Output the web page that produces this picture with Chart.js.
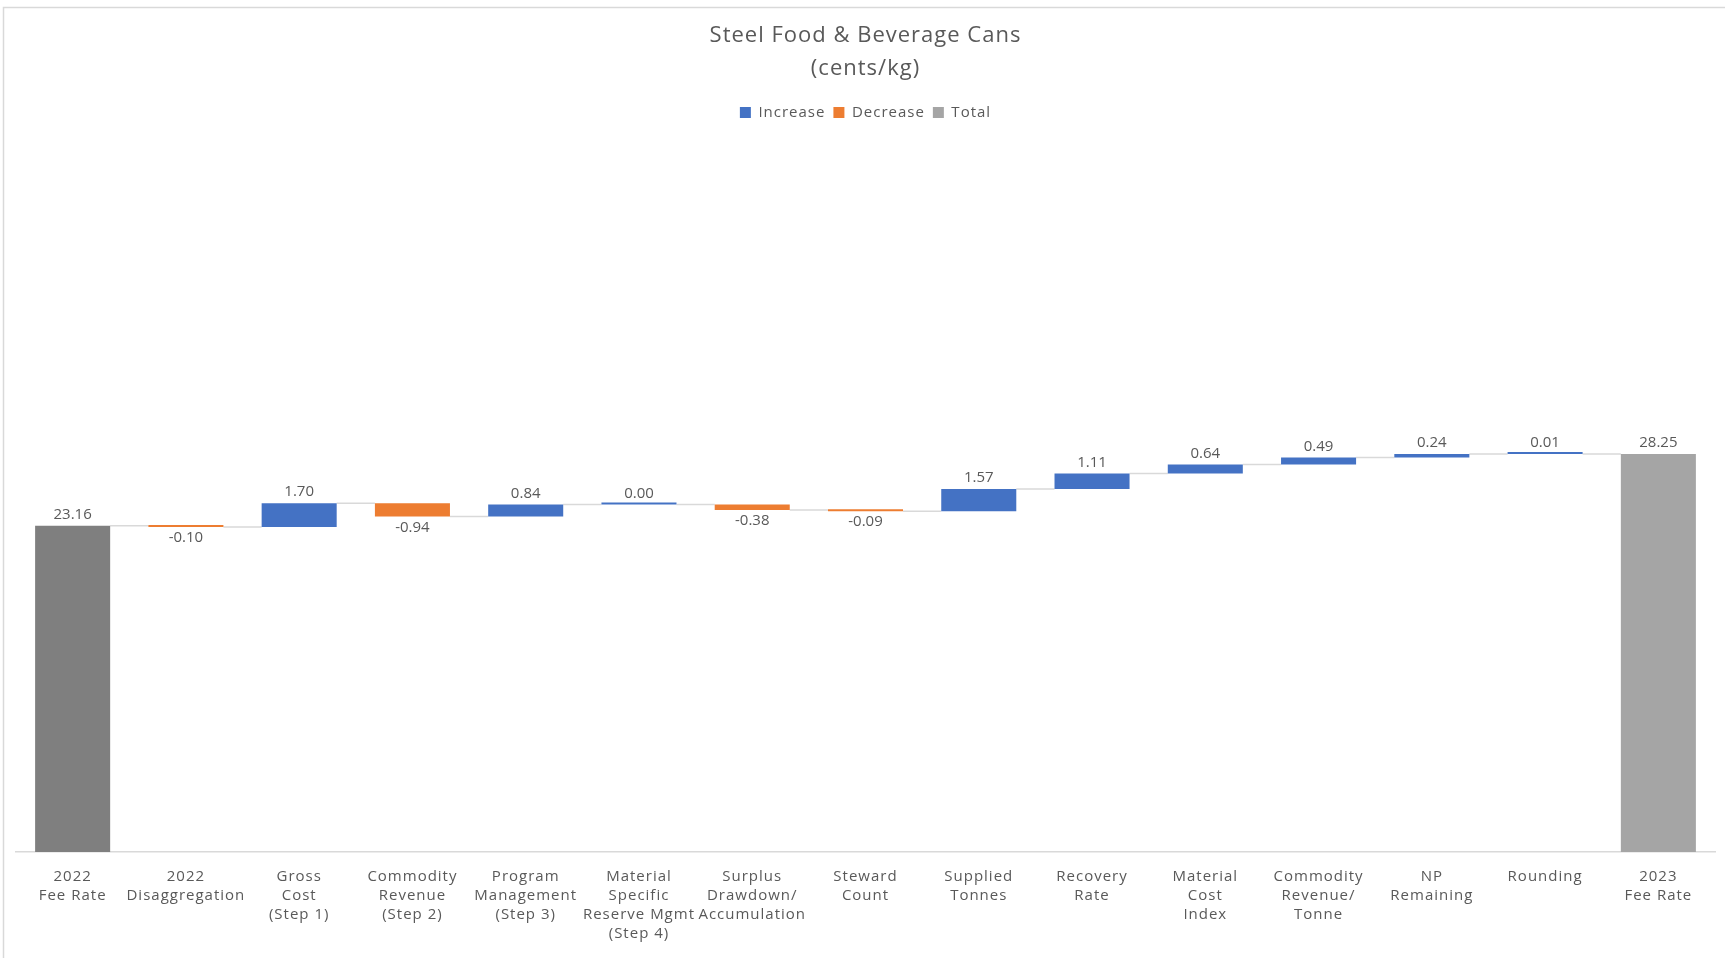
<!DOCTYPE html>
<html>
<head>
<meta charset="utf-8">
<script src="https://cdn.jsdelivr.net/npm/chart.js@4/dist/chart.umd.min.js"></script>
<style>
  html, body { margin: 0; padding: 0; background: #ffffff; }
  #wrap { width: 1725px; height: 958px; position: relative; }
</style>
</head>
<body>
<div id="wrap"><canvas id="c" width="1725" height="958"></canvas></div>
<script>
// ---- Data ----
const categories = [
  ["2022", "Fee Rate"],
  ["2022", "Disaggregation"],
  ["Gross", "Cost", "(Step 1)"],
  ["Commodity", "Revenue", "(Step 2)"],
  ["Program", "Management", "(Step 3)"],
  ["Material", "Specific", "Reserve Mgmt", "(Step 4)"],
  ["Surplus", "Drawdown/", "Accumulation"],
  ["Steward", "Count"],
  ["Supplied", "Tonnes"],
  ["Recovery", "Rate"],
  ["Material", "Cost", "Index"],
  ["Commodity", "Revenue/", "Tonne"],
  ["NP", "Remaining"],
  ["Rounding"],
  ["2023", "Fee Rate"]
];
const startTotal = 23.16;
const endTotal = 28.25;
const changes = [-0.10, 1.70, -0.94, 0.84, 0.00, -0.38, -0.09, 1.57, 1.11, 0.64, 0.49, 0.24, 0.01];
const legendLabels = ["Increase", "Decrease", "Total"];
const titleLines = ["Steel Food & Beverage Cans", "(cents/kg)"];

// ---- Build floating ranges from the data ----
const n = categories.length;
const incData = new Array(n).fill(null);
const decData = new Array(n).fill(null);
const totalEndData = new Array(n).fill(null);
const totalStartData = new Array(n).fill(null);
const labelValues = new Array(n).fill(0);
const ranges = new Array(n);
totalStartData[0] = [0, startTotal];
ranges[0] = [0, startTotal];
labelValues[0] = startTotal;
let run = startTotal;
changes.forEach((v, k) => {
  const i = k + 1;
  const r = [run, Math.round((run + v) * 100) / 100];
  if (v >= 0) incData[i] = r; else decData[i] = r;
  ranges[i] = r;
  labelValues[i] = v;
  run = r[1];
});
totalEndData[n - 1] = [0, endTotal];
ranges[n - 1] = [0, endTotal];
labelValues[n - 1] = endTotal;

const FONT = "'Open Sans', 'Liberation Sans', sans-serif";
const TEXT = '#595959';
const Y_MAX = 50;

const decorPlugin = {
  id: 'decor',
  beforeLayout(chart) {
    chart.ctx.letterSpacing = '1px';
    if (chart.legend && !chart.legend._patched) {
      const orig = chart.legend.fit;
      chart.legend.fit = function () { orig.call(this); this.height += 17.5; };
      chart.legend._patched = true;
    }
  },
  beforeDraw(chart) {
    const ctx = chart.ctx;
    ctx.letterSpacing = '1px';
    ctx.save();
    ctx.fillStyle = '#ffffff';
    ctx.fillRect(0, 0, chart.width, chart.height);
    ctx.strokeStyle = '#d9d9d9';
    ctx.lineWidth = 1.5;
    ctx.beginPath();
    ctx.moveTo(3.5, chart.height);
    ctx.lineTo(3.5, 7.5);
    ctx.lineTo(chart.width, 7.5);
    ctx.stroke();
    ctx.restore();
  },
  beforeDatasetsDraw(chart) {
    const ctx = chart.ctx;
    const x = chart.scales.x, y = chart.scales.y;
    const half = (x.getPixelForValue(1) - x.getPixelForValue(0)) * 0.6625 / 2;
    ctx.save();
    ctx.strokeStyle = '#d9d9d9';
    ctx.lineWidth = 1.5;
    for (let i = 0; i < n - 1; i++) {
      const yy = y.getPixelForValue(ranges[i][1]);
      ctx.beginPath();
      ctx.moveTo(x.getPixelForValue(i) + half, yy);
      ctx.lineTo(x.getPixelForValue(i + 1) - half, yy);
      ctx.stroke();
    }
    ctx.restore();
  },
  afterDatasetsDraw(chart) {
    const ctx = chart.ctx;
    const x = chart.scales.x, y = chart.scales.y;
    ctx.save();
    ctx.letterSpacing = '0px';
    ctx.font = '15px ' + FONT;
    ctx.fillStyle = TEXT;
    ctx.textAlign = 'center';
    ctx.textBaseline = 'middle';
    for (let i = 0; i < n; i++) {
      const v = labelValues[i];
      const cx = x.getPixelForValue(i);
      let cy;
      if (v < 0) {
        cy = y.getPixelForValue(Math.min(ranges[i][0], ranges[i][1])) + 11;
      } else {
        cy = y.getPixelForValue(Math.max(ranges[i][0], ranges[i][1])) - 11;
      }
      ctx.fillText(v.toFixed(2), cx, cy);
    }
    ctx.restore();
  }
};

const common = { grouped: false, barPercentage: 0.6625, categoryPercentage: 1, minBarLength: 2, borderWidth: 0 };

new Chart(document.getElementById('c'), {
  type: 'bar',
  data: {
    labels: categories,
    datasets: [
      Object.assign({ label: legendLabels[0], data: incData, backgroundColor: '#4472C4' }, common),
      Object.assign({ label: legendLabels[1], data: decData, backgroundColor: '#ED7D31' }, common),
      Object.assign({ label: legendLabels[2], data: totalEndData, backgroundColor: '#A5A5A5' }, common),
      Object.assign({ label: '_start', data: totalStartData, backgroundColor: '#7F7F7F' }, common)
    ]
  },
  options: {
    responsive: false,
    animation: false,
    devicePixelRatio: 1,
    layout: { padding: { left: 16, right: 10, top: 0, bottom: 0 } },
    plugins: {
      title: {
        display: true,
        text: titleLines,
        color: TEXT,
        font: { family: FONT, size: 22, weight: 'normal', lineHeight: 33 / 22 },
        padding: { top: 19, bottom: 12 }
      },
      legend: {
        display: true,
        position: 'top',
        labels: {
          color: TEXT,
          font: { family: FONT, size: 15 },
          boxWidth: 11,
          boxHeight: 11,
          padding: 8,
          filter: (item) => item.text !== '_start'
        }
      },
      tooltip: { enabled: false }
    },
    scales: {
      x: {
        grid: { display: false, drawTicks: false },
        border: { display: true, color: '#d9d9d9', width: 1.5 },
        ticks: {
          color: TEXT,
          font: { family: FONT, size: 15, lineHeight: 19 / 15 },
          padding: 15.5,
          autoSkip: false,
          maxRotation: 0,
          minRotation: 0
        },
        afterFit(scale) { scale.height = 106; }
      },
      y: {
        display: false,
        min: 0,
        max: Y_MAX
      }
    }
  },
  plugins: [decorPlugin]
});
</script>
</body>
</html>
